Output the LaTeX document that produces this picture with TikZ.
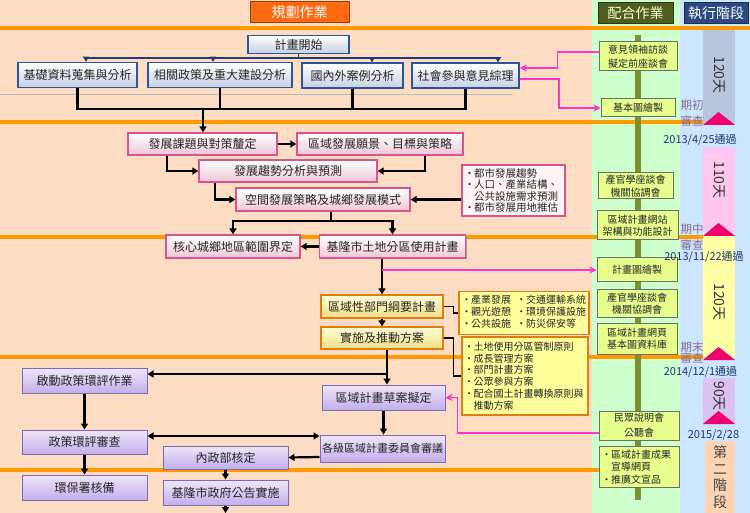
\documentclass[tikz,border=0pt]{standalone}
\usepackage{fontspec}
\setmainfont{Noto Sans CJK TC}
\usepackage{tikz}
\usepackage{xcolor}
\usetikzlibrary{arrows.meta,shadows}

\definecolor{peach}{HTML}{FCDCC2}
\definecolor{mint}{HTML}{CCFFCC}
\definecolor{sky}{HTML}{CCE6FF}
\definecolor{ruleorange}{HTML}{FF9900}
\definecolor{headorange}{HTML}{FF6A13}
\definecolor{headolive}{HTML}{4F5D1E}
\definecolor{headblue}{HTML}{2D4A80}
\definecolor{blueedge}{HTML}{2F5496}
\definecolor{bluefill}{HTML}{C5D0E2}
\definecolor{blueline}{HTML}{1F3C78}
\definecolor{pinkedge}{HTML}{D9538F}
\definecolor{pinkfill}{HTML}{EEC6D6}
\definecolor{pinkline}{HTML}{FF33CC}
\definecolor{yellowedge}{HTML}{E17C10}
\definecolor{yellowtop}{HTML}{FFFFD6}
\definecolor{yellowfill}{HTML}{F0DD86}
\definecolor{listfill}{HTML}{FFFF9C}
\definecolor{purpleedge}{HTML}{7B6BB5}
\definecolor{purplefill}{HTML}{C3AEEA}
\definecolor{notefill}{HTML}{FFF3F3}
\definecolor{sidefill}{HTML}{E6FF8C}
\definecolor{sideedge}{HTML}{6E6E6E}
\definecolor{olivebar}{HTML}{7D8F2E}
\definecolor{segblue}{HTML}{B7C6DD}
\definecolor{segpink}{HTML}{FFC6EF}
\definecolor{segyellow}{HTML}{FFFFA6}
\definecolor{seglilac}{HTML}{DCC2F2}
\definecolor{segpeach}{HTML}{FCD3B3}
\definecolor{trimark}{HTML}{F0006E}
\definecolor{reviewtext}{HTML}{8A6C8C}
\definecolor{datetext}{HTML}{1F3470}

\newcommand\listdot{\makebox[9pt][c]{•}}

\tikzset{
    head-box/.style = {rectangle, draw=#1!60!black, fill=#1, line width=1pt, text=white, minimum height=21pt, inner sep=0pt, font=\fontsize{14}{14}\selectfont},
    blue-box/.style = {rectangle, draw=blueedge, line width=1.5pt, top color=white, bottom color=bluefill, minimum height=25pt, inner sep=0pt, text=black!85, font=\fontsize{12}{12}\selectfont},
    pink-box/.style = {rectangle, draw=pinkedge, line width=1.3pt, top color=white, bottom color=pinkfill, minimum height=22pt, inner sep=0pt, text=black!85, font=\fontsize{12}{12}\selectfont, drop shadow={shadow xshift=1.2pt, shadow yshift=-1.2pt, fill=black!45, opacity=.8}},
    yellow-box/.style = {rectangle, draw=yellowedge, line width=1.3pt, top color=yellowtop, bottom color=yellowfill, minimum height=22pt, inner sep=0pt, text=black!85, font=\fontsize{12}{12}\selectfont},
    purple-box/.style = {rectangle, draw=purpleedge, line width=1pt, top color=white!70!purplefill, bottom color=purplefill, minimum width=125pt, minimum height=25pt, inner sep=0pt, text=black!85, font=\fontsize{12}{12}\selectfont, drop shadow={shadow xshift=1.2pt, shadow yshift=-1.2pt, fill=black!55, opacity=.8}},
    note-box/.style = {rectangle, draw=pinkedge, fill=notefill, line width=1.2pt, inner sep=3pt, align=left, text=black!85, font=\fontsize{10.5}{11.5}\selectfont},
    list-box/.style = {rectangle, draw=yellowedge, fill=listfill, line width=1.3pt, inner sep=3pt, align=left, text=black!85, font=\fontsize{10}{11.8}\selectfont},
    side-box/.style = {rectangle, draw=sideedge, fill=sidefill, line width=1pt, minimum width=80pt, inner sep=0pt, align=center, text=black!85, font=\fontsize{10}{12.5}\selectfont},
    days-text/.style = {rotate=-90, inner sep=0pt, text=black!80, font=\fontsize{14}{14}\selectfont},
    review-text/.style = {inner sep=0pt, align=center, text=reviewtext, font=\fontsize{11.5}{16}\selectfont},
    date-text/.style = {inner sep=0pt, text=datetext, font=\fontsize{11}{11}\selectfont},
    stage-text/.style = {inner sep=0pt, align=center, text=black!75, font=\fontsize{14}{16.7}\selectfont},
    orange-rule/.style = {line width=3.5pt, draw=ruleorange},
    black-line/.style = {line width=2.2pt, draw=black},
    black-link/.style = {black-line, -{Triangle[length=6pt, width=7pt]}},
    black-both/.style = {black-line, {Triangle[length=6pt, width=7pt]}-{Triangle[length=6pt, width=7pt]}},
    thin-line/.style = {line width=1.4pt, draw=black},
    blue-link/.style = {line width=1.6pt, draw=blueline, -{Triangle[length=5pt, width=6pt]}},
    pink-link/.style = {line width=1.8pt, draw=pinkline, -{Stealth[length=7pt, width=7pt]}},
}

\begin{document}
\begin{tikzpicture}[x=1pt, y=-1pt]
\useasboundingbox (0,0) rectangle (750,513);
\fill[peach] (0,0) rectangle (592,513);
\fill[mint] (592,0) rectangle (680,513);
\fill[sky] (680,0) rectangle (750,513);
\fill[segblue] (703,28) rectangle (735,125);
\fill[segpink] (703,147) rectangle (735,232);
\fill[segyellow] (703,236) rectangle (735,358);
\fill[seglilac] (703,378) rectangle (735,424);
\fill[segpeach] (705,441) rectangle (735,513);
\draw[orange-rule] (0,28) -- (750,28);
\draw[orange-rule] (0,122) -- (703,122);
\draw[orange-rule] (0,237) -- (703,237);
\draw[orange-rule] (0,357) -- (703,357);
\draw[orange-rule] (0,470) -- (599,470);
\draw[gray!55, line width=0.6pt] (0,94) -- (512,94);
\fill[olivebar] (635,35) rectangle (641,500);
\foreach \tip in {112,223,347,411}
    \fill[trimark] (703,\tip+13) -- (718.5,\tip) -- (735,\tip+13) -- cycle;

\node[head-box=headorange, minimum width=99pt] (plan-head) at (299.5,12.5) {規劃作業};
\node[head-box=headolive, minimum width=75pt, text=white!85!yellow] (work-head) at (635.5,13) {配合作業};
\node[head-box=headblue, minimum width=64pt] (stage-head) at (716,13) {執行階段};

\node[blue-box, minimum width=101pt, minimum height=18pt] (start) at (298.5,44.5) {計畫開始};
\node[blue-box, minimum width=119pt] (data) at (77.5,75) {基礎資料蒐集與分析};
\node[blue-box, minimum width=144pt] (policy) at (220,75) {相關政策及重大建設分析};
\node[blue-box, minimum width=101pt] (cases) at (352.5,75.5) {國內外案例分析};
\node[blue-box, minimum width=107pt] (social) at (465.5,75.5) {社會參與意見綜理};

\node[pink-box, minimum width=149pt] (issue) at (202.5,144) {發展課題與對策釐定};
\node[pink-box, minimum width=166pt] (vision) at (380,144) {區域發展願景、目標與策略};
\node[pink-box, minimum width=178pt] (trend) at (288,171) {發展趨勢分析與預測};
\node[pink-box, minimum width=174pt, minimum height=23pt] (spatial) at (323,199.5) {空間發展策略及城鄉發展模式};
\node[pink-box, minimum width=134pt, minimum height=23pt] (core) at (233,246.5) {核心城鄉地區範圍界定};
\node[pink-box, minimum width=146pt, minimum height=23pt] (zoning) at (392.5,246.5) {基隆市土地分區使用計畫};
\node[note-box, text width=97pt, minimum height=51pt] (trend-note) at (513.5,190.5) {\listdot 都市發展趨勢\\\listdot 人口、產業結構、\\\hspace*{9pt}公共設施需求預測\\\listdot 都市發展用地推估};

\node[yellow-box, minimum width=122pt, minimum height=23pt] (sector) at (382,306.5) {區域性部門綱要計畫};
\node[yellow-box, minimum width=122pt] (action) at (382,338) {實施及推動方案};
\node[list-box, minimum width=128pt, minimum height=42pt, font=\fontsize{10}{12.5}\selectfont] (sector-list) at (524,313) {\begin{tabular}{@{}l@{\hspace{6pt}}l@{}}\listdot 產業發展 & \listdot 交通運輸系統\\\listdot 觀光遊憩 & \listdot 環境保護設施\\\listdot 公共設施 & \listdot 防災保安等\end{tabular}};
\node[list-box, text width=121pt, minimum height=78pt, inner xsep=2.5pt] (action-list) at (525,376) {\listdot 土地使用分區管制原則\\\listdot 成長管理方案\\\listdot 部門計畫方案\\\listdot 公眾參與方案\\\listdot 配合國土計畫轉換原則與\\\hspace*{9pt}推動方案};

\node[purple-box, minimum width=123pt] (draft) at (383.5,397.5) {區域計畫草案擬定};
\node[purple-box] (env-start) at (84.5,380.5) {啟動政策環評作業};
\node[purple-box, minimum height=24pt] (env-review) at (84.5,442) {政策環評審查};
\node[purple-box] (epa) at (84.5,487.5) {環保署核備};
\node[purple-box, minimum height=23pt] (moi) at (225.5,457.5) {內政部核定};
\node[purple-box] (announce) at (225.5,492.5) {基隆市政府公告實施};
\node[purple-box, minimum height=27pt, font=\fontsize{11}{11}\selectfont] (committee) at (382.5,448.5) {各級區域計畫委員會審議};

\node[side-box, minimum width=78pt, minimum height=29pt, font=\fontsize{10}{14}\selectfont] (leader-talk) at (638,56.5) {意見領袖訪談\\擬定前座談會};
\node[side-box, minimum width=74pt, minimum height=18pt] (base-map) at (638,108) {基本圖繪製};
\node[side-box, minimum width=75pt, minimum height=26pt] (forum-a) at (635.5,186) {產官學座談會\\機關協調會};
\node[side-box, minimum width=81pt, minimum height=29pt] (web-site) at (637.5,225.5) {區域計畫網站\\架構與功能設計};
\node[side-box, minimum height=24pt] (plan-map) at (637,270) {計畫圖繪製};
\node[side-box, minimum height=27pt] (forum-b) at (637,303.5) {產官學座談會\\機關協調會};
\node[side-box, minimum height=31pt] (web-page) at (637,338.5) {區域計畫網頁\\基本圖資料庫};
\node[side-box, minimum height=29pt, font=\fontsize{10}{15}\selectfont] (hearing) at (639,425.5) {民眾說明會\\公聽會};
\node[side-box, text width=74pt, minimum height=40pt, inner sep=3pt, align=left] (promote) at (639,467) {\listdot 區域計畫成果\\\hspace*{9pt}宣導網頁\\\listdot 推廣文宣品};

\node[days-text] (days-a) at (719,75) {120天};
\node[days-text] (days-b) at (719,180) {110天};
\node[days-text] (days-c) at (719,302) {120天};
\node[days-text] (days-d) at (719,396) {90天};
\node[review-text] (review-a) at (692,113.5) {期初\\審查};
\node[review-text] (review-b) at (692,237) {期中\\審查};
\node[review-text, font=\fontsize{11.5}{11}\selectfont] (review-c) at (692,353) {期末\\審查};
\node[date-text] (date-a) at (700,140) {2013/4/25通過};
\node[date-text] (date-b) at (704,257) {2013/11/22通過};
\node[date-text] (date-c) at (700.5,372) {2014/12/1通過};
\node[date-text] (date-d) at (713.5,435) {2015/2/28};
\node[stage-text] (second-stage) at (720,477) {第\\二\\階\\段};

\foreach \dst/\dx in {data/8.5,policy/-7,cases/19.5,social/32.5}
    \draw[blue-link] (start.south) -- ++(0,3.5) -| ([xshift=\dx pt]\dst.north);
\coordinate (gather) at (203,109);
\foreach \src in {data,policy,cases,social}
    \draw[black-line] (\src.south) |- (gather);
\draw[black-link] (gather) -- (gather |- issue.north);
\draw[pink-link] ([yshift=4.5pt]leader-talk.west) -- ++(-41,0) |- ([yshift=7.5pt]social.east);
\draw[pink-link] ([yshift=-3.5pt]social.east) -- ++(39,0) |- (base-map.west);

\draw[black-link] (issue.east) -- (vision.west);
\draw[black-link] ([xshift=-35.5pt]issue.south) |- (trend.west);
\draw[black-link] ([xshift=45pt]vision.south) |- (trend.east);
\draw[black-link] ([xshift=-73pt]trend.south) |- (spatial.west);
\draw[black-link] (trend-note.west |- spatial.east) -- (spatial.east);
\draw[black-link] ([xshift=8pt]spatial.south) -- ++(0,9) -| (core.north);
\draw[black-link] ([xshift=8pt]spatial.south) -- ++(0,9) -| (zoning.north);
\draw[black-link] (zoning.west) -- (core.east);
\draw[black-link] (sector.north |- zoning.south) -- (sector.north);
\draw[pink-link] (sector.north |- plan-map.west) -- (plan-map.west);

\draw[black-link] (sector.south) -- (action.north);
\draw[thin-line] (sector.east) -- ++(10,0) |- (sector-list.west);
\draw[thin-line] (action.east) -- ++(10,0) |- (action-list.west);
\coordinate (env-tap) at (387,374);
\draw[black-link] ([xshift=5pt]action.south) -- ([xshift=5pt]action.south |- draft.north);
\draw[black-link] (env-tap) -- (env-tap -| env-start.east);
\draw[pink-link] ([yshift=-7.5pt]hearing.west) -- ++(-141,0) |- (draft.east);

\draw[black-link] (draft.south) -- (draft.south |- committee.north);
\draw[black-link] (env-start.south) -- (env-review.north);
\draw[black-both] ([yshift=6pt]env-review.east) -- ([yshift=12.5pt]committee.west);
\draw[black-link] ([yshift=-8.5pt]committee.west) -- (moi.east);
\draw[black-link] (env-review.south) -- (epa.north);
\draw[black-link] (moi.south) -- (announce.north);
\coordinate (finish) at (225.5,513);
\draw[black-link] (announce.south) -- (finish);
\end{tikzpicture}
\end{document}
